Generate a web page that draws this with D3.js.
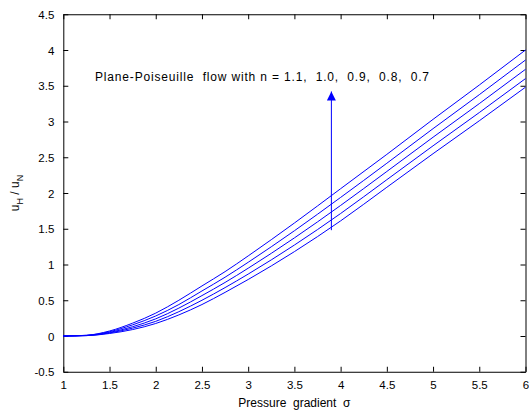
<!DOCTYPE html>
<html><head><meta charset="utf-8">
<script src="https://cdn.jsdelivr.net/npm/d3@7"></script>
<style>
html,body{margin:0;padding:0;background:#fff;}
text{font-family:"Liberation Sans",Arial,Helvetica,sans-serif;}
</style></head>
<body>
<svg id="chart" width="529" height="416"></svg>
<script>
const sigma = [1, 1.25, 1.5, 1.75, 2, 2.25, 2.5, 2.75, 3, 3.5, 4, 4.5, 5, 5.5, 6];
const n11 = [0, 0.010, 0.070, 0.180, 0.320, 0.500, 0.700, 0.900, 1.120, 1.580, 2.060, 2.540, 3.030, 3.510, 4.000];
const n10 = [0, 0.009, 0.060, 0.156, 0.280, 0.440, 0.630, 0.822, 1.031, 1.472, 1.938, 2.416, 2.900, 3.375, 3.860];
const n09 = [0, 0.007, 0.050, 0.130, 0.240, 0.390, 0.565, 0.749, 0.948, 1.372, 1.826, 2.301, 2.780, 3.250, 3.730];
const n08 = [0, 0.006, 0.043, 0.110, 0.205, 0.340, 0.500, 0.677, 0.866, 1.272, 1.713, 2.186, 2.660, 3.125, 3.600];
const n07 = [0, 0.005, 0.035, 0.090, 0.175, 0.295, 0.440, 0.610, 0.790, 1.180, 1.610, 2.080, 2.550, 3.010, 3.480];
const seriesNames = ["n = 1.1", "n = 1.0", "n = 0.9", "n = 0.8", "n = 0.7"];
const seriesValues = [n11, n10, n09, n08, n07];
const xTicks = [1, 1.5, 2, 2.5, 3, 3.5, 4, 4.5, 5, 5.5, 6];
const yTicks = [-0.5, 0, 0.5, 1, 1.5, 2, 2.5, 3, 3.5, 4, 4.5];
const annotationText = "Plane-Poiseuille  flow with n = 1.1,  1.0,  0.9,  0.8,  0.7";
const arrowX = [3.9];
const arrowY = [1.48, 3.42];

const svg = d3.select("#chart");
const L = 63.3, R = 525.5, T = 14.25, B = 371.75;
const x = d3.scaleLinear().domain([1, 6]).range([L, R]);
const y = d3.scaleLinear().domain([-0.5, 4.5]).range([B, T]);

svg.append("defs").append("marker")
  .attr("id","ah").attr("viewBox","0 0 10 10").attr("refX",10).attr("refY",5)
  .attr("markerWidth",12).attr("markerHeight",9).attr("markerUnits","userSpaceOnUse")
  .attr("orient","auto")
  .append("path").attr("d","M0,0 L10,5 L0,10 Z").attr("fill","#0000ff");

const fmt = d => String(d);
const tickLen = 5;
const gx = svg.append("g").attr("transform",`translate(0,${B})`)
  .call(d3.axisBottom(x).tickValues(xTicks).tickFormat(fmt).tickSizeInner(-tickLen).tickSizeOuter(0).tickPadding(9));
const gxt = svg.append("g").attr("transform",`translate(0,${T})`)
  .call(d3.axisTop(x).tickValues(xTicks).tickFormat("").tickSizeInner(-tickLen).tickSizeOuter(0));
const gy = svg.append("g").attr("transform",`translate(${L},0)`)
  .call(d3.axisLeft(y).tickValues(yTicks).tickFormat(fmt).tickSizeInner(-tickLen).tickSizeOuter(0).tickPadding(9));
const gyr = svg.append("g").attr("transform",`translate(${R},0)`)
  .call(d3.axisRight(y).tickValues(yTicks).tickFormat("").tickSizeInner(-tickLen).tickSizeOuter(0));
[gx,gxt,gy,gyr].forEach(g=>{
  g.select(".domain").attr("stroke","#000");
  g.selectAll(".tick line").attr("stroke","#000");
  g.selectAll("text").attr("fill","#000").style("font-size","11.5px").style("font-family","'Liberation Sans',Arial,sans-serif");
});
gy.selectAll("text").attr("dy","0.35em");

const line = d3.line().x((d,i)=>x(sigma[i])).y(d=>y(d)).curve(d3.curveMonotoneX);
svg.append("g").selectAll("path").data(seriesValues).join("path")
  .attr("d", d=>line(d)).attr("fill","none").attr("stroke","#0000ff").attr("stroke-width",1)
  .attr("data-name",(d,i)=>seriesNames[i]);

svg.append("line")
  .attr("x1",x(arrowX[0])).attr("x2",x(arrowX[0]))
  .attr("y1",y(arrowY[0])).attr("y2",y(arrowY[1]))
  .attr("stroke","#0000ff").attr("stroke-width",1).attr("marker-end","url(#ah)");

svg.append("text").attr("x",95).attr("y",80.5).attr("xml:space","preserve")
  .style("white-space","pre").style("font-size","12px")
  .attr("textLength",334).attr("lengthAdjust","spacing")
  .attr("fill","#000").text(annotationText);

svg.append("text").attr("x",(L+R)/2).attr("y",407).attr("text-anchor","middle")
  .attr("xml:space","preserve").style("white-space","pre").style("font-size","12px")
  .text("Pressure  gradient  σ");

const yl = svg.append("text").attr("transform",`translate(19,${(T+B)/2}) rotate(-90)`)
  .attr("text-anchor","middle").style("font-size","12px").attr("xml:space","preserve").style("white-space","pre");
yl.append("tspan").text("u");
yl.append("tspan").attr("dy","4").style("font-size","9px").text("H");
yl.append("tspan").attr("dy","-4").text(" / u");
yl.append("tspan").attr("dy","4").style("font-size","9px").text("N");
</script>
</body></html>
